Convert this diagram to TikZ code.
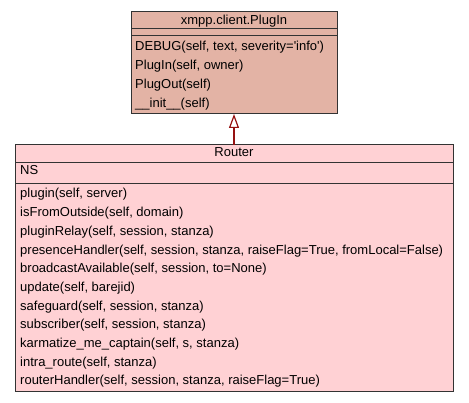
\documentclass[tikz,border=0pt]{standalone}
\usepackage{fontspec}
\setmainfont{Liberation Sans}
\usetikzlibrary{arrows.meta,positioning}
\definecolor{plugfill}{RGB}{227,179,165}
\definecolor{routerfill}{RGB}{255,209,212}
\definecolor{inherit}{RGB}{150,18,18}
\tikzset{
	row/.style={draw=black!80, line width=1pt, inner sep=0pt, outer sep=0pt},
	txt/.style={inner sep=0pt, font=\fontsize{13}{18.7}\selectfont},
}
\begin{document}
\begin{tikzpicture}[x=1pt,y=-1pt]
	\useasboundingbox (0,0) rectangle (469,403);
	%Boxes
	\node[row, fill=plugfill, minimum width=206pt, minimum height=17pt] (PT) at (234,20.5) {};
	\node[row, fill=plugfill, minimum width=206pt, minimum height=7pt] (PA) at (234,32.5) {};
	\node[row, fill=plugfill, minimum width=206pt, minimum height=78pt] (PM) at (234,75) {};
	\node[row, fill=routerfill, minimum width=438pt, minimum height=18pt] (RT) at (234,154) {};
	\node[row, fill=routerfill, minimum width=438pt, minimum height=21pt] (RA) at (234,173.5) {};
	\node[row, fill=routerfill, minimum width=438pt, minimum height=208pt] (RM) at (234,288) {};
	%Texts
	\node[txt, anchor=base] (ptext) at (234,25) {xmpp.client.PlugIn};
	\node[txt, anchor=base] (rtext) at (234,157) {Router};
	\node[txt, anchor=base west] (ns) at (20,175) {NS};
	\foreach \m [count=\i from 0] in {%
		{DEBUG(self, text, severity=\textquotesingle info\textquotesingle)},
		{PlugIn(self, owner)},
		{PlugOut(self)},
		{\_\_init\_\_(self)}}
		\node[txt, anchor=base west] (pm\i) at (135,{51+18.7*\i}) {\m};
	\foreach \m [count=\i from 0] in {%
		{plugin(self, server)},
		{isFromOutside(self, domain)},
		{pluginRelay(self, session, stanza)},
		{presenceHandler(self, session, stanza, raiseFlag=True, fromLocal=False)},
		{broadcastAvailable(self, session, to=None)},
		{update(self, barejid)},
		{safeguard(self, session, stanza)},
		{subscriber(self, session, stanza)},
		{karmatize\_me\_captain(self, s, stanza)},
		{intra\_route(self, stanza)},
		{routerHandler(self, session, stanza, raiseFlag=True)}}
		\node[txt, anchor=base west] (rm\i) at (20,{198+18.7*\i}) {\m};
	%Inheritance arrow
	\draw[inherit, line width=2pt, -{Triangle[length=14pt, width=10pt, fill=white, line width=1.2pt]}] (RT.north) -- (PM.south);
\end{tikzpicture}
\end{document}
